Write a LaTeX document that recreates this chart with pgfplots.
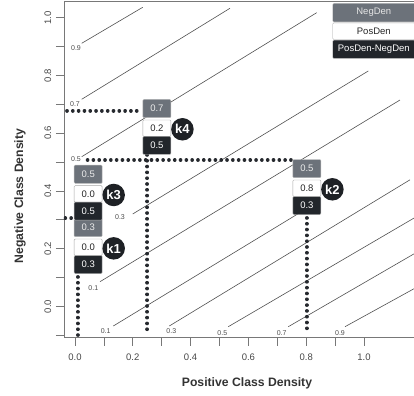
\documentclass[border=0pt]{standalone}
\usepackage{fontspec}
\setmainfont{Liberation Sans}
\usepackage{pgfplots}
\pgfplotsset{compat=1.18}

\definecolor{boxgray}{RGB}{108,114,122}
\definecolor{boxdark}{RGB}{34,38,43}
\definecolor{circdark}{RGB}{30,33,37}
\definecolor{axgray}{RGB}{120,120,120}
\definecolor{contour}{RGB}{80,80,80}
\definecolor{dotc}{RGB}{38,41,46}

\tikzset{
  gbox/.style={draw=gray!55, fill=boxgray, text=white!92!black, rounded corners=1bp,
    minimum width=28bp, minimum height=18.2bp, inner sep=0pt, anchor=north west,
    font=\fontsize{9.5bp}{10bp}\selectfont},
  wbox/.style={gbox, fill=white, text=black!85, draw=gray!70, minimum height=16.5bp},
  dbox/.style={gbox, fill=boxdark, text=white, draw=gray!55, minimum height=18bp},
  kcirc/.style={circle, fill=circdark, text=white, minimum size=22.5bp, inner sep=0pt,
    font=\bfseries\fontsize{13bp}{13bp}\selectfont},
  clab/.style={font=\fontsize{7bp}{7bp}\selectfont, text=black!70, inner sep=0pt},
  lbox/.style={anchor=north east, draw=gray!55, rounded corners=1bp, inner sep=0pt,
    minimum width=82bp, font=\fontsize{9.5bp}{10bp}\selectfont},
}

\newcommand{\kgroup}[6]{%
  \node[gbox] at (axis cs:#1,#2) {#3};
  \node[wbox] at ([yshift=-20.5bp]axis cs:#1,#2) {#4};
  \node[dbox] at ([yshift=-37bp]axis cs:#1,#2) {#5};
  \node[kcirc] at ([xshift=39.7bp,yshift=-30bp]axis cs:#1,#2) {#6};
}

\begin{document}
\begin{tikzpicture}
\begin{axis}[
  name=ax,
  scale only axis, width=352bp, height=336.7bp,
  xmin=-0.0381, xmax=1.18, ymin=-0.1084, ymax=1.0578,
  axis line style={draw=axgray, line width=0.8bp},
  tick pos=left, tick align=outside, major tick length=8bp,
  tick style={draw=axgray, line width=0.8bp},
  xtick={0,0.1,0.2,0.3,0.4,0.5,0.6,0.7,0.8,0.9,1.0},
  xticklabels={0.0,,0.2,,0.4,,0.6,,0.8,,1.0},
  ytick={-0.1,0,0.1,0.2,0.3,0.4,0.5,0.6,0.7,0.8,0.9,1.0},
  yticklabels={,0.0,,0.2,,0.4,,0.6,,0.8,,1.0},
  tick label style={font=\fontsize{9.5bp}{10bp}\selectfont, text=black!72, inner sep=0pt},
  xticklabel style={anchor=north},
  yticklabel style={rotate=90, anchor=south},
  xticklabel shift=7.7bp,
  yticklabel shift=4.6bp,
  xlabel={Positive Class Density},
  ylabel={Negative Class Density},
  label style={font=\bfseries\fontsize{12.2bp}{13bp}\selectfont, text=black!80},
  xlabel style={at={(axis description cs:0.5199,-0.1354)}, anchor=center},
  ylabel style={at={(axis description cs:-0.125,0.421)}, anchor=center, rotate=0},
  clip=true,
]
% contour lines
\addplot[draw=contour, line width=0.6bp] coordinates {(0.0232,0.9113) (0.2343,1.0360)};
\addplot[draw=contour, line width=0.6bp] coordinates {(0.0232,0.7174) (0.5363,1.0326)};
\addplot[draw=contour, line width=0.6bp] coordinates {(0.0232,0.5185) (0.8363,1.0173)};
\addplot[draw=contour, line width=0.6bp] coordinates {(0.1997,0.3201) (1.0149,0.8154)};
\addplot[draw=contour, line width=0.6bp] coordinates {(0.0865,0.0856) (1.1246,0.7149)};
\addplot[draw=contour, line width=0.6bp] coordinates {(0.1325,-0.0679) (0.7785,0.3249)};
\addplot[draw=contour, line width=0.6bp] coordinates {(0.3263,-0.0679) (1.1592,0.4385)};
\addplot[draw=contour, line width=0.6bp] coordinates {(0.5304,-0.0703) (1.1800,0.3100)};
\addplot[draw=contour, line width=0.6bp] coordinates {(0.7381,-0.0703) (1.1800,0.1860)};
\addplot[draw=contour, line width=0.6bp] coordinates {(0.9343,-0.0703) (1.1800,0.0650)};
% contour labels
\node[clab] at (axis cs:0.0035,0.896) {0.9};
\node[clab] at (axis cs:0.0000,0.7012) {0.7};
\node[clab] at (axis cs:0.0035,0.5088) {0.5};
\node[clab] at (axis cs:0.1557,0.3107) {0.3};
\node[clab] at (axis cs:0.0633,0.0648) {0.1};
\node[clab] at (axis cs:0.1062,-0.0842) {0.1};
\node[clab] at (axis cs:0.3332,-0.0869) {0.3};
\node[clab] at (axis cs:0.5097,-0.0911) {0.5};
\node[clab] at (axis cs:0.7152,-0.0911) {0.7};
\node[clab] at (axis cs:0.9170,-0.0911) {0.9};
% dotted guide lines
\pgfplotsset{guide/.style={draw=dotc, line width=3.7bp, dash pattern=on 0.01bp off 5.8bp, line cap=round}}
\addplot[guide] coordinates {(0.0093,0.102) (0.0093,-0.1008)};
\addplot[guide] coordinates {(0.2502,0.5246) (0.2502,-0.0887)};
\addplot[guide] coordinates {(0.8017,0.3064) (0.8017,-0.0887)};
\addplot[guide] coordinates {(-0.0335,0.305) (-0.0069,0.305)};
\addplot[guide] coordinates {(-0.0277,0.678) (0.2301,0.678)};
\addplot[guide] coordinates {(0.0435,0.5071) (0.7509,0.5071)};
% value boxes
\kgroup{-0.0035}{0.3050}{0.3}{0.0}{0.3}{k1}
\kgroup{-0.0035}{0.4898}{0.5}{0.0}{0.5}{k3}
\kgroup{0.2343}{0.7174}{0.7}{0.2}{0.5}{k4}
\kgroup{0.7533}{0.5095}{0.5}{0.8}{0.3}{k2}
% legend
\node[lbox, fill=boxgray, text=white!90!black, minimum height=18.4bp] at ([yshift=-2.3bp]axis cs:1.1765,1.0578) {NegDen};
\node[lbox, fill=white, text=black!85, draw=gray!70, minimum height=16.6bp] at ([yshift=-21.7bp]axis cs:1.1765,1.0578) {PosDen};
\node[lbox, fill=boxdark, text=white, minimum height=18.3bp] at ([yshift=-39bp]axis cs:1.1765,1.0578) {PosDen-NegDen};
\end{axis}
\pgfresetboundingbox
\path[use as bounding box] (-64bp,-58.3bp) rectangle (350bp,337.7bp);
\end{tikzpicture}
\end{document}
